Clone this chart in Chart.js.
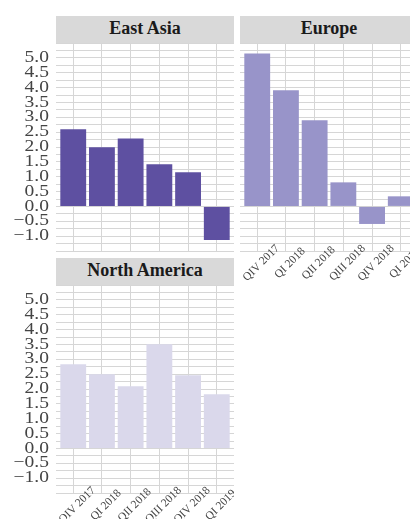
<!DOCTYPE html>
<html>
<head>
<meta charset="utf-8">
<script src="https://cdn.jsdelivr.net/npm/chart.js@4.4.0/dist/chart.umd.min.js"></script>
<style>
    html, body { margin: 0; padding: 0; background: #fff; }
    body { position: relative; width: 410px; height: 519px; overflow: hidden; }
    .strip {
        position: absolute; width: 178px; height: 25px; padding-top: 2px; line-height: 28px;
        background: #d9d9d9; color: #1a1a1a; text-align: center;
        font: bold 18px 'Liberation Serif', 'Times New Roman', serif;
    }
    canvas { position: absolute; }
</style>
</head>
<body>
<div class="strip" style="left:56px; top:16px;">East Asia</div>
<div class="strip" style="left:240px; top:16px;">Europe</div>
<div class="strip" style="left:56px; top:258px;">North America</div>

<canvas id="eastAsia" width="234" height="209" style="left:0; top:43px;"></canvas>
<canvas id="europe" width="178" height="251" style="left:240px; top:43px;"></canvas>
<canvas id="northAmerica" width="234" height="234" style="left:0; top:285px;"></canvas>

<script>
const quarters = ['QIV 2017', 'QI 2018', 'QII 2018', 'QIII 2018', 'QIV 2018', 'QI 2019'];
const eastAsia = [2.60, 1.99, 2.29, 1.42, 1.15, -1.13];
const europe = [5.15, 3.91, 2.90, 0.81, -0.59, 0.34];
const northAmerica = [2.83, 2.50, 2.09, 3.51, 2.46, 1.82];
const yTicks = [-1, -0.5, 0, 0.5, 1, 1.5, 2, 2.5, 3, 3.5, 4, 4.5, 5];

const gridColor = '#d6d6d6';
const textColor = '#444444';
const serif = "'Liberation Serif', 'Times New Roman', serif";

// y labels are drawn a bit wide (like the original), quarter labels rotated 45deg
const axisLabels = {
    id: 'axisLabels',
    afterDraw(chart, args, opts) {
        const ctx = chart.ctx;
        const area = chart.chartArea;
        const xs = chart.scales.x, ys = chart.scales.y;
        ctx.save();
        ctx.fillStyle = textColor;
        if (opts.yLabels) {
            ctx.font = '16px ' + serif;
            ctx.textAlign = 'right';
            ctx.textBaseline = 'middle';
            yTicks.forEach(v => {
                ctx.save();
                ctx.translate(area.left - 7, ys.getPixelForValue(v));
                ctx.scale(1.22, 1);
                ctx.fillText(v.toFixed(1).replace('-', '\u2212'), 0, 0);
                ctx.restore();
            });
        }
        if (opts.xLabels) {
            ctx.font = '11.5px ' + serif;
            ctx.textAlign = 'center';
            ctx.textBaseline = 'top';
            quarters.forEach((q, i) => {
                ctx.save();
                ctx.translate(xs.getPixelForValue(i), area.bottom + 8);
                ctx.rotate(-Math.PI / 4);
                ctx.fillText(q, 0, 0);
                ctx.restore();
            });
        }
        ctx.restore();
    }
};

function makePanel(id, values, color, showY, showX, bottomPad) {
    return new Chart(document.getElementById(id), {
        type: 'bar',
        data: {
            datasets: [{
                data: values.map((v, i) => ({ x: i, y: v })),
                backgroundColor: color,
                borderWidth: 0,
                categoryPercentage: 1,
                barPercentage: 0.9
            }]
        },
        options: {
            responsive: false,
            animation: false,
            layout: { padding: { top: 0, left: 0, right: 0, bottom: bottomPad } },
            plugins: {
                legend: { display: false },
                tooltip: { enabled: false },
                axisLabels: { yLabels: showY, xLabels: showX }
            },
            scales: {
                x: {
                    type: 'linear',
                    offset: false,
                    min: -0.6,
                    max: 5.6,
                    grid: { color: gridColor, drawTicks: false, offset: false },
                    border: { display: false },
                    ticks: { display: false, stepSize: 1, includeBounds: false },
                    afterFit: s => { s.height = 0; }
                },
                y: {
                    min: -1.5,
                    max: 5.5,
                    grid: { color: gridColor, drawTicks: false },
                    border: { display: false },
                    ticks: { display: false, stepSize: 0.25, maxTicksLimit: 40, autoSkip: false },
                    afterFit: s => { s.width = showY ? 56 : 0; }
                }
            }
        },
        plugins: [axisLabels]
    });
}

makePanel('eastAsia', eastAsia, '#5e50a1', true, false, 1);
makePanel('europe', europe, '#9894c9', false, true, 43);
makePanel('northAmerica', northAmerica, '#dad8eb', true, true, 26);
</script>
</body>
</html>
